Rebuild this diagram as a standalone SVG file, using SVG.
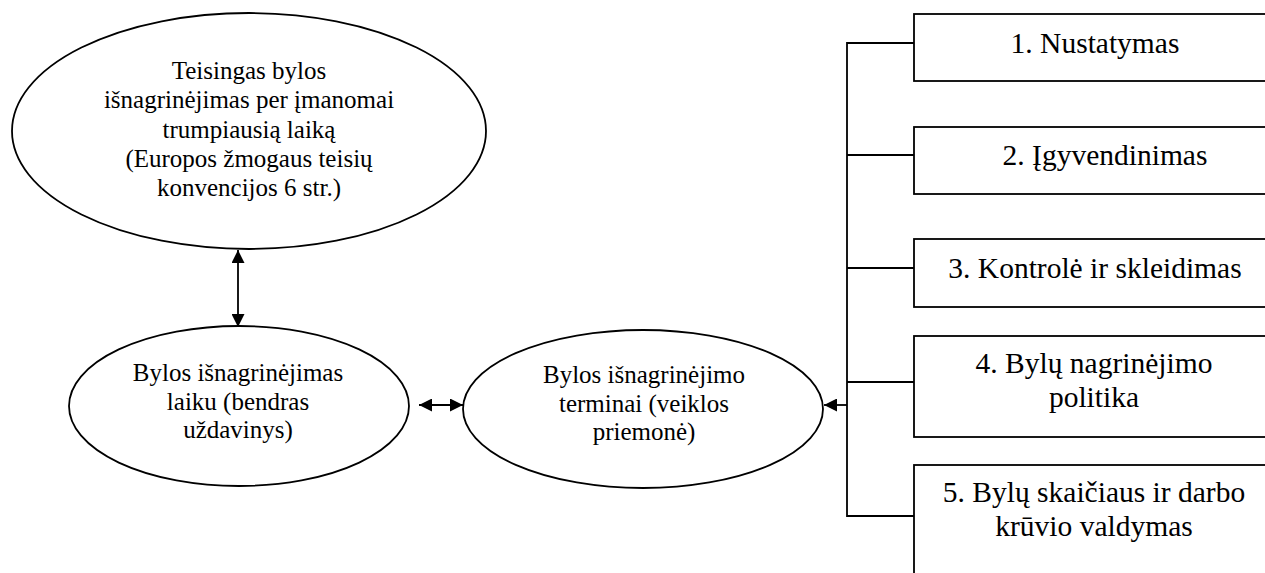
<svg xmlns="http://www.w3.org/2000/svg" width="1265" height="573" viewBox="0 0 1265 573">
<defs>
<style>
.shape{fill:#fff;stroke:#000;stroke-width:1.8}
.ln{fill:none;stroke:#000;stroke-width:1.8}
text{fill:#000;text-anchor:middle}
.t{font-size:25px}
.b{font-size:29.5px}
</style>
<marker id="ah" viewBox="0 0 10 10" refX="10" refY="5" markerWidth="13" markerHeight="13" markerUnits="userSpaceOnUse" orient="auto-start-reverse">
<path d="M0,0 L10,5 L0,10 z" fill="#000"/>
</marker>
</defs>
<rect width="1265" height="573" fill="#fff"/>
<g id="connectors">
<line class="ln" x1="238" y1="250" x2="238" y2="327" marker-start="url(#ah)" marker-end="url(#ah)"/>
<line class="ln" x1="419" y1="405" x2="463" y2="405" marker-start="url(#ah)" marker-end="url(#ah)"/>
<polyline class="ln" points="914,43 847,43 847,516 914,516"/>
<line class="ln" x1="847" y1="155" x2="914" y2="155"/>
<line class="ln" x1="847" y1="268" x2="914" y2="268"/>
<line class="ln" x1="847" y1="382" x2="914" y2="382"/>
<line class="ln" x1="847" y1="405" x2="824" y2="405" marker-end="url(#ah)"/>
</g>
<g font-family="Liberation Serif, Times New Roman, DejaVu Serif, serif">
<g id="n-top">
<ellipse class="shape" cx="249" cy="131" rx="237" ry="118"/>
<text class="t" x="249" y="79">Teisingas bylos</text>
<text class="t" x="249" y="108">išnagrinėjimas per įmanomai</text>
<text class="t" x="249" y="138">trumpiausią laiką</text>
<text class="t" x="249" y="167">(Europos žmogaus teisių</text>
<text class="t" x="249" y="196">konvencijos 6 str.)</text>
</g>
<g id="n-left">
<ellipse class="shape" cx="239" cy="406" rx="170" ry="80"/>
<text class="t" x="238" y="381">Bylos išnagrinėjimas</text>
<text class="t" x="238" y="410">laiku (bendras</text>
<text class="t" x="238" y="438">uždavinys)</text>
</g>
<g id="n-mid">
<ellipse class="shape" cx="643" cy="409" rx="180" ry="79"/>
<text class="t" x="644" y="383">Bylos išnagrinėjimo</text>
<text class="t" x="644" y="412">terminai (veiklos</text>
<text class="t" x="644" y="440">priemonė)</text>
</g>
<g id="box1">
<rect class="shape" x="914" y="14" width="360" height="67"/>
<text class="b" x="1095" y="53">1. Nustatymas</text>
</g>
<g id="box2">
<rect class="shape" x="914" y="127" width="360" height="67"/>
<text class="b" x="1105" y="165">2. Įgyvendinimas</text>
</g>
<g id="box3">
<rect class="shape" x="914" y="239" width="360" height="68"/>
<text class="b" x="1095" y="278">3. Kontrolė ir skleidimas</text>
</g>
<g id="box4">
<rect class="shape" x="914" y="336" width="360" height="101"/>
<text class="b" x="1094" y="373">4. Bylų nagrinėjimo</text>
<text class="b" x="1094" y="407">politika</text>
</g>
<g id="box5">
<rect class="shape" x="914" y="465" width="360" height="130"/>
<text class="b" x="1094" y="502">5. Bylų skaičiaus ir darbo</text>
<text class="b" x="1094" y="536">krūvio valdymas</text>
</g>
</g>
</svg>
